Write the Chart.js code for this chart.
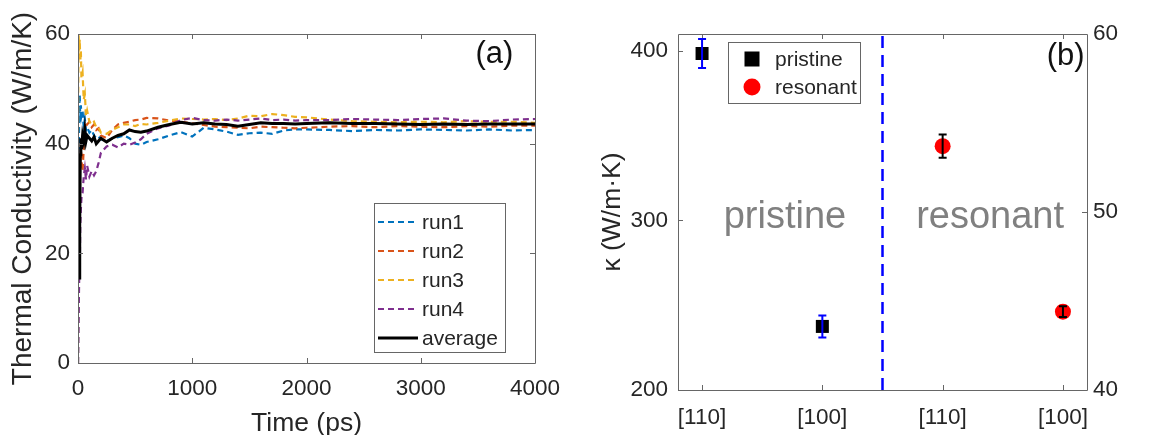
<!DOCTYPE html>
<html>
<head>
<meta charset="utf-8">
<script src="https://cdn.jsdelivr.net/npm/chart.js@4.4.1/dist/chart.umd.min.js"></script>
<style>
  html, body { margin: 0; padding: 0; background: #fff; }
  #wrap { position: relative; width: 1160px; height: 435px; }
  #timeChart { position: absolute; left: 0; top: 0; }
  #kappaChart { position: absolute; left: 560px; top: 0; }
</style>
</head>
<body>
<div id="wrap">
  <canvas id="timeChart" width="560" height="435"></canvas>
  <canvas id="kappaChart" width="600" height="435"></canvas>
</div>
<script>
const FONT = "'Liberation Sans', Arial, sans-serif";
const INK = '#262626';

// (a) running thermal conductivity vs. simulation time
const timePs = [0, 5, 10, 15, 20, 25, 30, 40, 50, 60, 70, 80, 100, 120, 140, 160, 180, 200,
  250, 300, 350, 400, 450, 500, 550, 600, 700, 800, 900, 1000, 1100, 1200, 1300, 1400, 1500,
  1600, 1700, 1800, 1900, 2000, 2200, 2400, 2600, 2800, 3000, 3200, 3400, 3600, 3800, 4000];
const run1 = [0, 30, 46, 49, 44, 47, 45, 46, 43, 44.5, 42.5, 43, 42, 42.5, 41.5, 41, 41.3, 40.8,
  40.5, 41, 41.2, 41.5, 41, 40, 39.8, 40.3, 40.8, 41.5, 42.1, 41.3, 42.9, 42.6, 42.2, 41.6, 41.9,
  42.0, 41.8, 42.4, 42.6, 42.6, 42.5, 42.3, 42.5, 42.4, 42.6, 42.5, 42.4, 42.6, 42.4, 42.5];
const run2 = [0, 22, 33, 38, 36, 40, 37, 35, 39, 43, 44, 43.5, 44, 43, 43.5, 42.5, 42.8, 41.5,
  41, 42.5, 43.5, 43.8, 44.0, 44.3, 44.4, 44.7, 44.6, 44.2, 44.0, 43.7, 43.4, 43.1, 43.0, 42.9, 42.8,
  43.1, 43.0, 42.9, 42.8, 42.9, 43.1, 43.2, 43.0, 43.2, 43.1, 43.0, 43.2, 43.1, 43.3, 43.3];
const run3 = [42, 60, 57, 59, 55, 57, 52, 53, 48, 49, 45, 46, 44, 43.5, 44, 43, 43, 42,
  41.8, 42.5, 43, 43.5, 43.5, 43.2, 43.6, 43.5, 43.8, 44.2, 44.6, 44.5, 44.4, 44.5, 44.3, 44.6, 45.1,
  45.0, 45.4, 45.2, 44.9, 44.8, 44.4, 44.1, 44.0, 43.9, 44.0, 43.9, 44.1, 44.0, 44.0, 43.8];
const run4 = [0, 8, 15, 17, 25, 28, 30, 31, 34, 35.5, 33.5, 36, 34, 35, 34.2, 35, 36.5, 38.3,
  39.5, 39.8, 39.3, 40, 39.8, 40.2, 40.8, 41.8, 42.8, 43.3, 44.3, 44.7, 44.3, 44.2, 44.4, 44.2, 44.4,
  44.6, 44.3, 44.4, 44.2, 44.3, 44.3, 44.5, 44.4, 44.3, 44.5, 44.6, 44.2, 44.1, 44.4, 44.5];
const average = [28, 35, 15.5, 25, 38, 41, 39, 41.5, 40.5, 42.5, 40.5, 41.5, 41, 40.5, 41.2, 40, 40.5, 41,
  40.3, 41, 41.5, 41.8, 42.5, 42.2, 42.1, 42.3, 43.0, 43.5, 43.9, 43.6, 43.8, 43.6, 43.5, 43.2, 43.5,
  43.8, 43.7, 43.7, 43.6, 43.7, 43.8, 43.7, 43.7, 43.6, 43.5, 43.6, 43.5, 43.6, 43.6, 43.6];
const timeTicks = [0, 1000, 2000, 3000, 4000];
const condTicks = [0, 20, 40, 60];

// (b) kappa per orientation, pristine vs resonant
const facets = ['[110]', '[100]', '[110]', '[100]'];
const pristineX = [1, 2];
const pristineK = [398.5, 237.5];
const pristineErr = [8.5, 6.5];
const resonantX = [3, 4];
const resonantK = [53.7, 44.4];
const resonantErr = [0.65, 0.3];
const dividerX = 2.5;
const leftTicks = [200, 300, 400];
const rightTicks = [40, 50, 60];

const pts = (xs, ys) => ys.map((y, i) => ({ x: xs[i], y }));
const fixTicks = list => scale => { scale.ticks = list.map(v => ({ value: v })); };
const plain = v => String(v);

// box around the axes with inward tick marks
const framePlugin = {
  id: 'frame',
  afterDatasetsDraw(chart, args, opts) {
    const { ctx, chartArea: a } = chart;
    const len = opts.tick;
    ctx.save();
    ctx.strokeStyle = opts.color;
    ctx.lineWidth = 1;
    ctx.beginPath();
    Object.values(chart.scales).forEach(s => {
      s.ticks.forEach(t => {
        const p = Math.round(s.getPixelForValue(t.value)) + 0.5;
        if (s.isHorizontal()) {
          ctx.moveTo(p, a.bottom); ctx.lineTo(p, a.bottom - len);
          ctx.moveTo(p, a.top); ctx.lineTo(p, a.top + len);
        } else {
          if (s.position === 'left' || opts.mirrorY) {
            ctx.moveTo(a.left, p); ctx.lineTo(a.left + len, p);
          }
          if (s.position === 'right' || opts.mirrorY) {
            ctx.moveTo(a.right, p); ctx.lineTo(a.right - len, p);
          }
        }
      });
    });
    ctx.rect(Math.round(a.left) + 0.5, Math.round(a.top) + 0.5,
      Math.round(a.right - a.left), Math.round(a.bottom - a.top));
    ctx.stroke();
    ctx.restore();
  }
};

const errorBarPlugin = {
  id: 'errorBars',
  afterDatasetsDraw(chart, args, opts) {
    const ctx = chart.ctx;
    chart.data.datasets.forEach(ds => {
      if (!ds.errors) return;
      const xs = chart.scales.x;
      const ys = chart.scales[ds.yAxisID];
      ctx.save();
      ctx.strokeStyle = ds.errorColor;
      ctx.lineWidth = opts.width;
      ds.data.forEach((pt, j) => {
        const x = xs.getPixelForValue(pt.x);
        const hi = ys.getPixelForValue(pt.y + ds.errors[j]);
        const lo = ys.getPixelForValue(pt.y - ds.errors[j]);
        ctx.beginPath();
        ctx.moveTo(x, lo); ctx.lineTo(x, hi);
        ctx.moveTo(x - opts.cap, lo); ctx.lineTo(x + opts.cap, lo);
        ctx.moveTo(x - opts.cap, hi); ctx.lineTo(x + opts.cap, hi);
        ctx.stroke();
      });
      ctx.restore();
    });
  }
};

// free text placed at data coordinates
const notesPlugin = {
  id: 'notes',
  afterDatasetsDraw(chart, args, opts) {
    const ctx = chart.ctx;
    ctx.save();
    opts.items.forEach(n => {
      const x = chart.scales.x.getPixelForValue(n.x);
      const y = chart.scales[n.axis || 'y'].getPixelForValue(n.y);
      ctx.font = n.font;
      ctx.fillStyle = n.color;
      ctx.textAlign = n.align || 'left';
      ctx.textBaseline = 'alphabetic';
      ctx.fillText(n.text, x, y);
    });
    ctx.restore();
  }
};

// legend drawn in a framed box inside the axes
const boxLegendPlugin = {
  id: 'boxLegend',
  afterDraw(chart, args, o) {
    const ctx = chart.ctx;
    ctx.save();
    ctx.fillStyle = '#fff';
    ctx.fillRect(o.left, o.top, o.width, o.height);
    ctx.strokeStyle = o.border;
    ctx.lineWidth = 1;
    ctx.strokeRect(o.left + 0.5, o.top + 0.5, o.width, o.height);
    const items = chart.data.datasets.filter(d => d.label);
    items.forEach((d, k) => {
      const y = o.top + o.first + k * o.step;
      if (d.pointStyle === 'rect') {
        const s = o.markSize;
        ctx.fillStyle = d.backgroundColor;
        ctx.fillRect(o.mark - s / 2, y - s / 2, s, s);
      } else if (d.pointStyle === 'circle') {
        ctx.fillStyle = d.backgroundColor;
        ctx.beginPath();
        ctx.arc(o.mark, y, o.dotRadius, 0, Math.PI * 2);
        ctx.fill();
      } else {
        ctx.strokeStyle = d.borderColor;
        ctx.lineWidth = d.borderWidth;
        ctx.setLineDash(d.borderDash || []);
        ctx.beginPath();
        ctx.moveTo(o.lineFrom, y);
        ctx.lineTo(o.lineTo, y);
        ctx.stroke();
        ctx.setLineDash([]);
      }
      ctx.fillStyle = INK;
      ctx.font = o.font;
      ctx.textAlign = 'left';
      ctx.textBaseline = 'middle';
      ctx.fillText(d.label, o.textX, y + 1);
    });
    ctx.restore();
  }
};

const tickFont = { family: FONT, size: 22.5 };
const runLine = (label, values, color, order) => ({
  label, data: pts(timePs, values), borderColor: color, borderWidth: 2.2,
  borderDash: [6, 4], pointRadius: 0, tension: 0, order
});

new Chart(document.getElementById('timeChart'), {
  type: 'line',
  data: {
    datasets: [
      runLine('run1', run1, '#0072BD', 4),
      runLine('run2', run2, '#D95319', 3),
      runLine('run3', run3, '#EDB120', 2),
      runLine('run4', run4, '#7E2F8E', 1),
      { label: 'average', data: pts(timePs, average), borderColor: '#000', borderWidth: 3,
        pointRadius: 0, tension: 0, order: 0 }
    ]
  },
  options: {
    responsive: false,
    animation: false,
    layout: { padding: { top: 34, right: 25, left: 0, bottom: 0 } },
    plugins: {
      legend: { display: false },
      tooltip: { enabled: false },
      frame: { color: '#666', tick: 5, mirrorY: true },
      notes: { items: [
        { text: '(a)', x: 3810, y: 54.7, font: `31px ${FONT}`, color: '#111', align: 'right' }
      ] },
      boxLegend: { left: 374, top: 203, width: 131, height: 149, first: 19, step: 29,
        lineFrom: 378, lineTo: 418, textX: 422, font: `21px ${FONT}`, border: '#666' }
    },
    scales: {
      x: {
        type: 'linear', min: 0, max: 4000,
        afterBuildTicks: fixTicks(timeTicks),
        // the end labels may hang past the plot box; keep the box at its set size
        afterFit: s => { s.height = 72; s.paddingLeft = 0; s.paddingRight = 0; },
        grid: { display: false, drawTicks: false },
        border: { display: false },
        ticks: { font: tickFont, color: INK, padding: 12, maxRotation: 0, autoSkip: false,
          callback: plain },
        title: { display: true, text: 'Time (ps)', color: INK,
          font: { family: FONT, size: 26.5, lineHeight: 1 }, padding: { top: 0, bottom: -2 } }
      },
      y: {
        min: 0, max: 60,
        afterBuildTicks: fixTicks(condTicks),
        afterFit: s => { s.width = 78; },
        grid: { display: false, drawTicks: false },
        border: { display: false },
        ticks: { font: tickFont, color: INK, padding: 8, autoSkip: false, callback: plain },
        title: { display: true, text: 'Thermal Conductivity (W/m/K)', color: INK,
          font: { family: FONT, size: 28, lineHeight: 1.2 }, padding: { top: 6, bottom: 0 } }
      }
    }
  },
  plugins: [framePlugin, notesPlugin, boxLegendPlugin]
});

new Chart(document.getElementById('kappaChart'), {
  type: 'scatter',
  data: {
    datasets: [
      { label: 'pristine', data: pts(pristineX, pristineK), yAxisID: 'y',
        pointStyle: 'rect', pointRadius: 9.2, backgroundColor: '#000', borderWidth: 0,
        errors: pristineErr, errorColor: '#0000ff' },
      { label: 'resonant', data: pts(resonantX, resonantK), yAxisID: 'y1',
        pointStyle: 'circle', pointRadius: 8, backgroundColor: '#ff0000', borderWidth: 0,
        errors: resonantErr, errorColor: '#000' },
      { data: [{ x: dividerX, y: 200 }, { x: dividerX, y: 410 }], yAxisID: 'y', type: 'line',
        showLine: true, borderColor: '#0000ff', borderWidth: 2.5, borderDash: [12, 7],
        pointRadius: 0 }
    ]
  },
  options: {
    responsive: false,
    animation: false,
    layout: { padding: { top: 34, right: 0, left: 0, bottom: 0 } },
    plugins: {
      legend: { display: false },
      tooltip: { enabled: false },
      frame: { color: '#666', tick: 5, mirrorY: false },
      errorBars: { width: 2, cap: 4 },
      notes: { items: [
        { text: 'pristine', x: 1.18, y: 295.7, font: `38px ${FONT}`, color: '#808080' },
        { text: 'resonant', x: 2.78, y: 295.7, font: `38px ${FONT}`, color: '#808080' },
        { text: '(b)', x: 4.18, y: 391.9, font: `31px ${FONT}`, color: '#111', align: 'right' }
      ] },
      boxLegend: { left: 168, top: 42, width: 132, height: 61, first: 17, step: 28,
        mark: 192, markSize: 15, dotRadius: 8.5, textX: 215, font: `21px ${FONT}`, border: '#666' }
    },
    scales: {
      x: {
        type: 'linear', min: 0.8, max: 4.2,
        afterBuildTicks: fixTicks([1, 2, 3, 4]),
        afterFit: s => { s.height = 45; },
        grid: { display: false, drawTicks: false },
        border: { display: false },
        ticks: { font: tickFont, color: INK, padding: 14, maxRotation: 0, autoSkip: false,
          callback: v => facets[Math.round(v) - 1] }
      },
      y: {
        position: 'left', min: 200, max: 410,
        afterBuildTicks: fixTicks(leftTicks),
        afterFit: s => { s.width = 118; },
        grid: { display: false, drawTicks: false },
        border: { display: false },
        ticks: { font: tickFont, color: INK, padding: 10, autoSkip: false, callback: plain },
        title: { display: true, text: 'κ (W/m·K)', color: INK,
          font: { family: FONT, size: 26.5, lineHeight: 1.2 }, padding: { top: 37, bottom: 0 } }
      },
      y1: {
        position: 'right', min: 40, max: 60,
        afterBuildTicks: fixTicks(rightTicks),
        afterFit: s => { s.width = 73; },
        grid: { display: false, drawTicks: false },
        border: { display: false },
        ticks: { font: tickFont, color: INK, padding: 6, autoSkip: false, callback: plain }
      }
    }
  },
  plugins: [framePlugin, notesPlugin, errorBarPlugin, boxLegendPlugin]
});
</script>
</body>
</html>
